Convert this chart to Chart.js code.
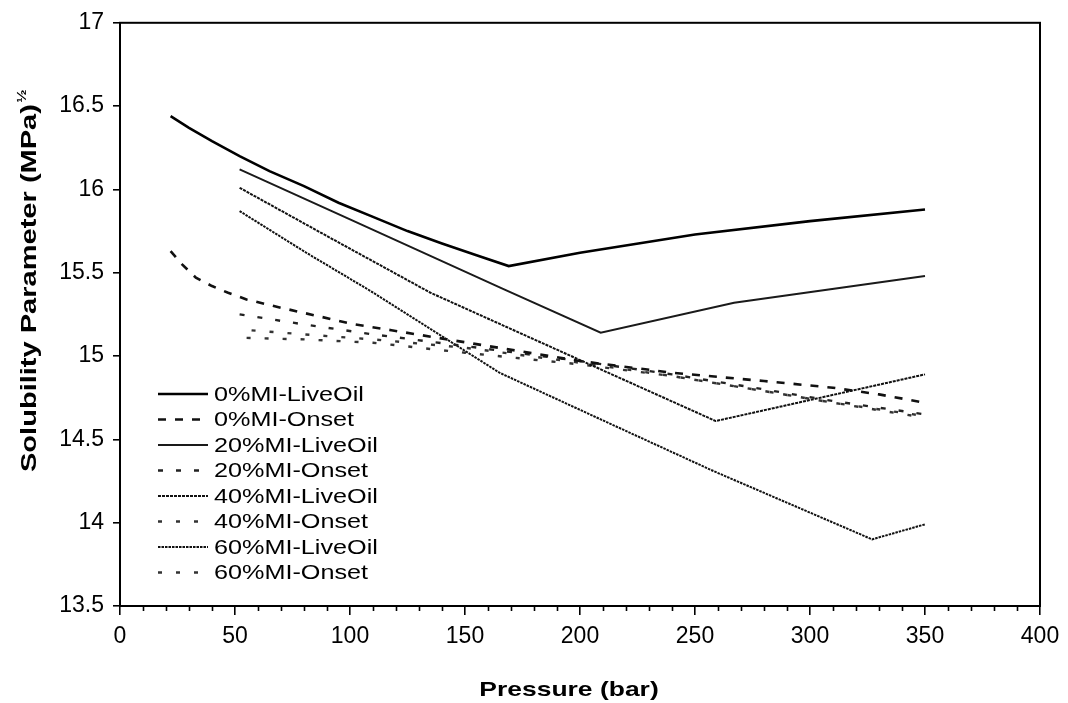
<!DOCTYPE html>
<html>
<head>
<meta charset="utf-8">
<script src="https://cdn.jsdelivr.net/npm/chart.js@4"></script>
<style>
  body { margin: 0; background: #fff; }
  canvas { display: block; }
</style>
</head>
<body>
<canvas id="chart" width="1068" height="703"></canvas>
<script>
// ============================================
// Solubility parameter vs pressure
// LiveOil / Onset lines for 0-60% MI
// ============================================

const FONT = "'Liberation Sans', Arial, sans-serif";

// ---- data (pressure in bar, parameter in MPa^0.5) ----
const p0Live = [22, 30, 40, 52, 65, 80, 95, 110, 125, 140, 155, 169, 200, 250, 300, 350];
const v0Live = [16.44, 16.37, 16.29, 16.20, 16.11, 16.02, 15.92, 15.835, 15.75, 15.675, 15.605, 15.54, 15.62, 15.73, 15.81, 15.88];

const p0Onset = [22, 27, 33, 40, 47, 55, 70, 86, 102, 118, 149, 200, 240, 280, 310, 330, 350];
const v0Onset = [15.63, 15.55, 15.47, 15.42, 15.38, 15.34, 15.29, 15.24, 15.19, 15.155, 15.085, 14.97, 14.90, 14.85, 14.81, 14.77, 14.72];

const p20Live = [52, 100, 167, 209, 267, 350];
const v20Live = [16.12, 15.82, 15.40, 15.14, 15.32, 15.48];

const pOnset = [52, 80, 110, 150, 200, 240, 280, 310, 350];
const v20Onset = [15.25, 15.19, 15.13, 15.06, 14.97, 14.89, 14.80, 14.73, 14.65];
const v40Onset = [15.16, 15.13, 15.10, 15.05, 14.96, 14.88, 14.79, 14.72, 14.64];
const v60Onset = [15.11, 15.10, 15.08, 15.02, 14.95, 14.88, 14.79, 14.72, 14.63];

const p40Live = [52, 90, 135, 209, 259, 350];
const v40Live = [16.01, 15.72, 15.38, 14.92, 14.61, 14.89];

const p60Live = [52, 81, 109, 165, 209, 258, 327, 350];
const v60Live = [15.87, 15.62, 15.39, 14.90, 14.62, 14.31, 13.90, 13.99];

const seriesNames = [
    "0%MI-LiveOil", "0%MI-Onset",
    "20%MI-LiveOil", "20%MI-Onset",
    "40%MI-LiveOil", "40%MI-Onset",
    "60%MI-LiveOil", "60%MI-Onset"
];

const yTicks = [13.5, 14, 14.5, 15, 15.5, 16, 16.5, 17];
const xTicks = [0, 50, 100, 150, 200, 250, 300, 350, 400];

function zip(xs, ys) {
    return xs.map((x, i) => ({ x: x, y: ys[i] }));
}

function series(i, xs, ys, color, width, dash, offset) {
    return {
        label: seriesNames[i],
        data: zip(xs, ys),
        borderColor: color,
        borderWidth: width,
        borderDash: dash,
        borderDashOffset: offset || 0,
        pointRadius: 0,
        tension: 0,
        fill: false
    };
}

const datasets = [
    series(0, p0Live, v0Live, "#000", 2.6, []),
    series(1, p0Onset, v0Onset, "#111", 2.6, [8, 9]),
    series(2, p20Live, v20Live, "#1a1a1a", 2, []),
    series(3, pOnset, v20Onset, "#222", 2.4, [5, 13]),
    series(4, p40Live, v40Live, "#111", 2, [3, 1]),
    series(5, pOnset, v40Onset, "#333", 2.4, [4, 14], 6),
    series(6, p60Live, v60Live, "#111", 2, [2.5, 1]),
    series(7, pOnset, v60Onset, "#333", 2.4, [4, 14], 11)
];

// ---- extras: frame, minor ticks, legend, axis titles ----
const extras = {
    id: "extras",
    afterDraw(chart) {
        const ctx = chart.ctx;
        const a = chart.chartArea;
        const xs = chart.scales.x;
        ctx.save();

        // frame
        ctx.strokeStyle = "#000";
        ctx.lineWidth = 2;
        ctx.setLineDash([]);
        ctx.strokeRect(a.left, a.top, a.right - a.left, a.bottom - a.top);

        // minor x ticks every 10 bar
        ctx.lineWidth = 1.6;
        for (let v = 10; v < 400; v += 10) {
            if (v % 50 === 0) continue;
            const px = Math.round(xs.getPixelForValue(v)) + 0.5;
            ctx.beginPath();
            ctx.moveTo(px, a.bottom);
            ctx.lineTo(px, a.bottom + 5);
            ctx.stroke();
        }

        // legend
        const lx0 = 158, lx1 = 208, tx = 214, ly0 = 394, dy = 25.5;
        chart.data.datasets.forEach((ds, i) => {
            const y = ly0 + i * dy;
            ctx.strokeStyle = ds.borderColor;
            ctx.lineWidth = ds.borderWidth;
            ctx.setLineDash(ds.borderDash || []);
            ctx.lineDashOffset = 0;
            ctx.beginPath();
            ctx.moveTo(lx0, y);
            ctx.lineTo(lx1, y);
            ctx.stroke();

            ctx.setLineDash([]);
            ctx.fillStyle = "#000";
            ctx.font = "21px " + FONT;
            ctx.textBaseline = "middle";
            ctx.textAlign = "left";
            ctx.save();
            ctx.translate(tx, y + 1);
            ctx.scale(1.2, 1);
            ctx.fillText(ds.label, 0, 0);
            ctx.restore();
        });

        // x title
        ctx.fillStyle = "#000";
        ctx.font = "bold 21px " + FONT;
        ctx.textAlign = "center";
        ctx.textBaseline = "alphabetic";
        ctx.save();
        ctx.translate((a.left + a.right) / 2 - 11, 696);
        ctx.scale(1.26, 1);
        ctx.fillText("Pressure (bar)", 0, 0);
        ctx.restore();

        // y title with superscript 1/2
        ctx.save();
        ctx.translate(36, 472);
        ctx.rotate(-Math.PI / 2);
        ctx.scale(1.32, 1);
        ctx.textAlign = "left";
        ctx.font = "bold 22px " + FONT;
        const main = "Solubility Parameter (MPa)";
        ctx.fillText(main, 0, 0);
        const w = ctx.measureText(main).width;
        ctx.font = "bold 12px " + FONT;
        ctx.fillText("\u00BD", w + 1, -10);
        ctx.restore();

        ctx.restore();
    }
};

new Chart(document.getElementById("chart"), {
    type: "line",
    data: { datasets: datasets },
    options: {
        responsive: false,
        animation: false,
        layout: { padding: { left: 0, top: 20, right: 28, bottom: 0 } },
        plugins: {
            legend: { display: false },
            tooltip: { enabled: false }
        },
        scales: {
            x: {
                type: "linear",
                min: 0,
                max: 400,
                afterFit: (s) => { s.height = 97; },
                afterBuildTicks: (s) => { s.ticks = xTicks.map(v => ({ value: v })); },
                ticks: {
                    color: "#000",
                    font: { family: FONT, size: 23 },
                    padding: 8,
                    maxRotation: 0,
                    autoSkip: false,
                    callback: (v) => String(v)
                },
                grid: {
                    drawOnChartArea: false,
                    tickLength: 9,
                    color: "#000",
                    tickColor: "#000",
                    lineWidth: 1.6
                },
                border: { color: "#000", width: 2 }
            },
            y: {
                min: 13.5,
                max: 17,
                afterFit: (s) => { s.width = 120; },
                afterBuildTicks: (s) => { s.ticks = yTicks.map(v => ({ value: v })); },
                ticks: {
                    color: "#000",
                    font: { family: FONT, size: 23 },
                    padding: 9,
                    autoSkip: false,
                    callback: (v) => String(v)
                },
                grid: {
                    drawOnChartArea: false,
                    tickLength: 7,
                    color: "#000",
                    tickColor: "#000",
                    lineWidth: 1.6
                },
                border: { color: "#000", width: 2 }
            }
        }
    },
    plugins: [extras]
});
</script>
</body>
</html>
